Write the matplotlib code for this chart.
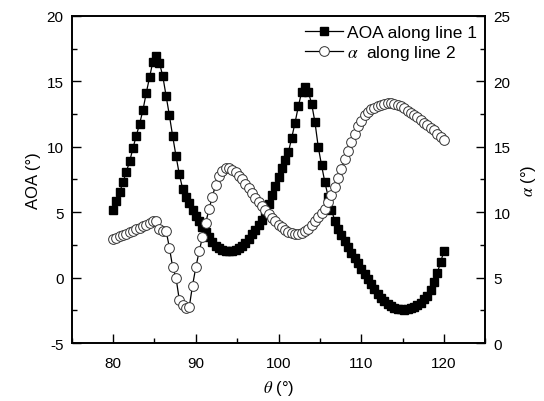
import numpy as np
import matplotlib
matplotlib.use("Agg")
import matplotlib.pyplot as plt
from matplotlib.ticker import MultipleLocator

plt.rcParams['font.family'] = ['Liberation Sans', 'DejaVu Sans']
plt.rcParams['mathtext.fontset'] = 'stix'
plt.rcParams['axes.unicode_minus'] = False

# incidence angle grid (deg), uniform sweep 80..120
theta = np.linspace(80, 120, 101)

# AOA along line 1 (left axis, deg)
aoa = [5.2, 5.85, 6.55, 7.3, 8.1, 8.9, 9.9, 10.85, 11.75, 12.8,
       14.1, 15.3, 16.5, 16.9, 16.4, 15.4, 13.9, 12.4, 10.8, 9.3,
       7.9, 6.8, 6.15, 5.7, 5.2, 4.7, 4.3, 3.85, 3.5, 3.1,
       2.75, 2.45, 2.25, 2.1, 2.02, 2.0, 2.0, 2.1, 2.25, 2.45,
       2.65, 2.95, 3.3, 3.65, 4.0, 4.4, 5.0, 5.65, 6.3, 7.0,
       7.7, 8.35, 9.0, 9.6, 10.7, 11.85, 13.1, 14.2, 14.6, 14.2,
       13.3, 11.9, 10.0, 8.6, 7.3, 6.2, 5.2, 4.35, 3.75, 3.25,
       2.8, 2.35, 1.9, 1.5, 1.1, 0.7, 0.3, -0.1, -0.5, -0.9,
       -1.25, -1.55, -1.8, -2.0, -2.2, -2.3, -2.38, -2.43, -2.45, -2.43,
       -2.35, -2.25, -2.1, -1.9, -1.65, -1.4, -0.95, -0.3, 0.35, 1.2,
       2.0]

# alpha along line 2 (right axis, deg)
alpha = [7.95, 8.05, 8.15, 8.25, 8.35, 8.5, 8.6, 8.7, 8.8, 8.95,
         9.05, 9.15, 9.3, 9.35, 8.75, 8.6, 8.6, 7.3, 5.8, 5.0,
         3.3, 2.9, 2.65, 2.75, 4.4, 5.8, 7.0, 8.1, 9.2, 10.25,
         11.2, 12.1, 12.75, 13.15, 13.35, 13.4, 13.25, 13.05, 12.8, 12.5,
         12.15, 11.85, 11.45, 11.1, 10.8, 10.5, 10.2, 9.85, 9.55, 9.3,
         9.05, 8.85, 8.65, 8.5, 8.38, 8.33, 8.33, 8.4, 8.55, 8.75,
         9.0, 9.3, 9.65, 9.95, 10.25, 10.75, 11.3, 11.95, 12.6, 13.3,
         14.05, 14.7, 15.35, 15.95, 16.55, 17.0, 17.4, 17.65, 17.85, 17.95,
         18.1, 18.2, 18.28, 18.33, 18.35, 18.3, 18.2, 18.1, 17.95, 17.75,
         17.55, 17.4, 17.25, 17.05, 16.85, 16.65, 16.45, 16.25, 16.0, 15.75,
         15.5]

fig = plt.figure(figsize=(5.44, 4.02), dpi=100)
ax = fig.add_axes([0.132, 0.144, 0.76, 0.814])
ax2 = ax.twinx()

l1, = ax.plot(theta, aoa, color='black', lw=0.9, marker='s', ms=6.4,
              mfc='black', mec='black', label='AOA along line 1')
l2, = ax2.plot(theta, alpha, color='black', lw=0.9, marker='o', ms=7.0,
               mfc='white', mec='#333333', mew=0.7, label=r'$\alpha$  along line 2')

ax.set_xlim(75, 125)
ax.set_ylim(-5, 20)
ax2.set_ylim(0, 25)

ax.xaxis.set_major_locator(MultipleLocator(10))
ax.xaxis.set_minor_locator(MultipleLocator(5))
ax.yaxis.set_major_locator(MultipleLocator(5))
ax.yaxis.set_minor_locator(MultipleLocator(2.5))
ax2.yaxis.set_major_locator(MultipleLocator(5))
ax2.yaxis.set_minor_locator(MultipleLocator(2.5))

for a in (ax, ax2):
    a.tick_params(which='major', direction='in', length=6.5, width=1.0,
                  labelsize=11, pad=6)
    a.tick_params(which='minor', direction='in', length=3.3, width=1.0)
    for s in a.spines.values():
        s.set_linewidth(1.2)
ax.tick_params(top=False, right=False, which='both')
ax.tick_params(axis='x', pad=9)
ax2.tick_params(left=False, which='both')

ax.set_xlabel(r'$\theta$ (°)', fontsize=12, labelpad=6)
ax.set_ylabel('AOA (°)', fontsize=12)
ax2.set_ylabel(r'$\alpha$ (°)', fontsize=12, labelpad=6)

ax2.legend(handles=[l1, l2], loc='upper right', frameon=False, fontsize=12.5,
           handlelength=2.2, handletextpad=0.2, borderaxespad=0.3,
           borderpad=0.2, labelspacing=0.2)

fig.savefig('out.png', dpi=100)
